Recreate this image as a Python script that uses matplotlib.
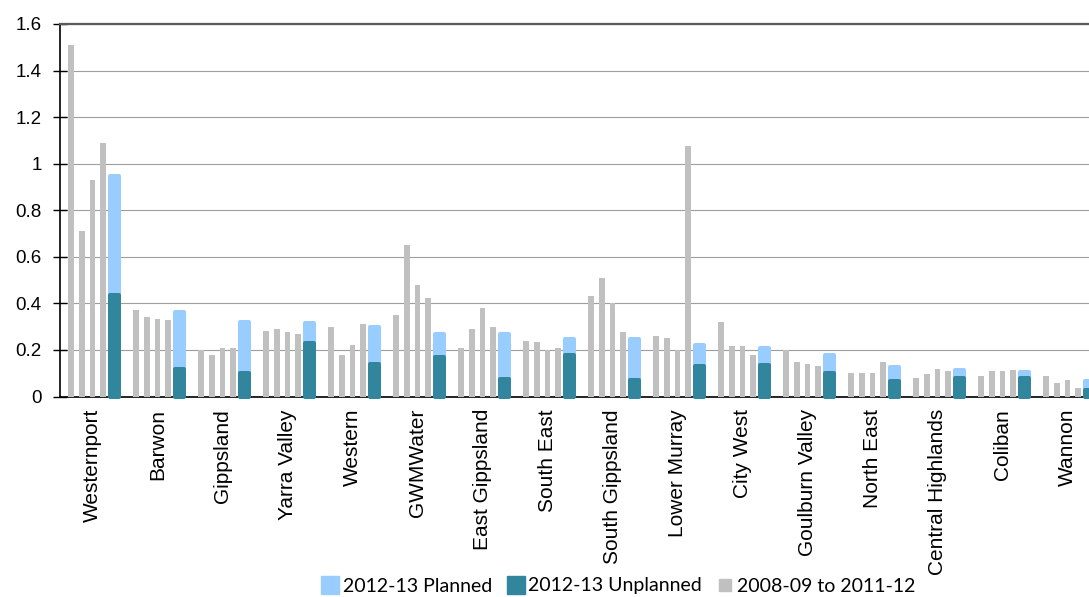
import matplotlib
matplotlib.use("Agg")
import matplotlib.pyplot as plt
import numpy as np
from matplotlib.lines import Line2D

# ---- data ---------------------------------------------------------------
regions = ["Westernport", "Barwon", "Gippsland", "Yarra Valley", "Western",
           "GWMWater", "East Gippsland", "South East", "South Gippsland",
           "Lower Murray", "City West", "Goulburn Valley", "North East",
           "Central Highlands", "Coliban", "Wannon"]

# four historical years, 2008-09 .. 2011-12
hist_2008_09 = [1.51, 0.37, 0.20, 0.28, 0.30, 0.35, 0.21, 0.24, 0.43, 0.26,
                0.32, 0.20, 0.10, 0.08, 0.09, 0.09]
hist_2009_10 = [0.71, 0.34, 0.18, 0.29, 0.18, 0.65, 0.29, 0.235, 0.51, 0.25,
                0.215, 0.15, 0.10, 0.095, 0.11, 0.06]
hist_2010_11 = [0.93, 0.335, 0.21, 0.275, 0.22, 0.48, 0.38, 0.20, 0.40, 0.20,
                0.215, 0.14, 0.10, 0.12, 0.11, 0.07]
hist_2011_12 = [1.09, 0.33, 0.21, 0.27, 0.31, 0.425, 0.30, 0.21, 0.275, 1.075,
                0.18, 0.13, 0.15, 0.11, 0.115, 0.035]

unplanned_2012_13 = [0.435, 0.12, 0.10, 0.23, 0.14, 0.17, 0.075, 0.18, 0.07,
                     0.13, 0.135, 0.10, 0.065, 0.08, 0.08, 0.03]
planned_2012_13 = [0.51, 0.245, 0.22, 0.085, 0.16, 0.10, 0.195, 0.065, 0.175,
                   0.09, 0.075, 0.08, 0.06, 0.035, 0.025, 0.035]

legend_labels = ["2012-13 Planned", "2012-13 Unplanned", "2008-09 to 2011-12"]
yticks = [0, 0.2, 0.4, 0.6, 0.8, 1, 1.2, 1.4, 1.6]
ytick_labels = ["0", "0.2", "0.4", "0.6", "0.8", "1", "1.2", "1.4", "1.6"]

# ---- style --------------------------------------------------------------
GREY = "#C0C0C0"
TEAL = "#31859C"
LIGHT_BLUE = "#99CCFF"

W, H = 1089, 597
fig = plt.figure(figsize=(W / 100, H / 100), dpi=100)
fig.patch.set_facecolor("white")
ax = fig.add_axes([60 / W, (H - 396.5) / H, 1040 / W, 372.5 / H])

x = np.arange(len(regions))
slot = 0.166
grey_w = 0.092
stack_w = 0.14
edge_px = 4.0
edge_pt = edge_px * 72 / 100

hist = [hist_2008_09, hist_2009_10, hist_2010_11, hist_2011_12]
for j, vals in enumerate(hist):
    ax.bar(x + (j - 2) * slot, vals, width=grey_w, color=GREY,
           linewidth=0, zorder=3)

xs = x + 2 * slot
planned_bars = ax.bar(xs, planned_2012_13, bottom=unplanned_2012_13,
                      width=stack_w, color=LIGHT_BLUE, edgecolor=LIGHT_BLUE,
                      linewidth=edge_pt, zorder=4)
unplanned_bars = ax.bar(xs, unplanned_2012_13, width=stack_w, color=TEAL,
                        edgecolor=TEAL, linewidth=edge_pt, zorder=5)
for b in list(planned_bars) + list(unplanned_bars):
    b.set_joinstyle("round")
    b.set_clip_on(False)

ax.set_xlim(-0.5, len(regions) - 0.5)
ax.set_ylim(0, 1.6)

ax.set_yticks(yticks)
ax.set_yticklabels(ytick_labels, fontsize=13.5, family="Liberation Sans")
ax.tick_params(axis="y", direction="inout", length=9.5, width=1.0,
               pad=8.5, colors="black")
ax.set_xticks(x)
ax.set_xticklabels(regions, rotation=90, fontsize=15,
                   family="Liberation Sans", va="top", ha="center")
ax.tick_params(axis="x", length=0, pad=9)

ax.yaxis.grid(True, color="#9E9E9E", linewidth=0.8, zorder=0)
ax.set_axisbelow(True)

for side in ("left", "bottom"):
    ax.spines[side].set_color("black")
    ax.spines[side].set_linewidth(1.2)
ax.spines["top"].set_color("#5A5A5A")
ax.spines["top"].set_linewidth(1.6)
ax.spines["right"].set_visible(False)

handles = [
    Line2D([], [], linestyle="none", marker="s", markersize=13,
           markerfacecolor=LIGHT_BLUE, markeredgecolor=LIGHT_BLUE),
    Line2D([], [], linestyle="none", marker="s", markersize=13,
           markerfacecolor=TEAL, markeredgecolor=TEAL),
    Line2D([], [], linestyle="none", marker="s", markersize=8,
           markerfacecolor=GREY, markeredgecolor=GREY),
]
fig.legend(handles, legend_labels, loc="center", ncol=3,
           bbox_to_anchor=(618.5 / W, 11 / H), frameon=False,
           prop={"family": "Lato", "size": 14}, handlelength=0.95,
           handletextpad=0.15, columnspacing=0.75, borderpad=0,
           borderaxespad=0)

fig.savefig("out.png", dpi=100, facecolor="white")
